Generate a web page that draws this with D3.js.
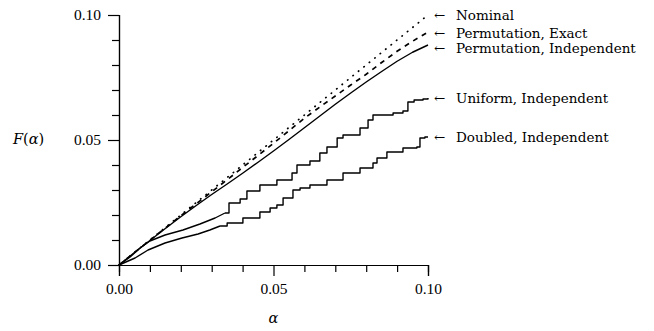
<!DOCTYPE html>
<html>
<head>
<meta charset="utf-8">
<script src="https://cdnjs.cloudflare.com/ajax/libs/d3/7.8.5/d3.min.js"></script>
<style>
  body { margin: 0; background: #fff; }
  svg { display: block; }
  text { font-family: "DejaVu Serif", serif; fill: #000; }
</style>
</head>
<body>
<svg id="chart" width="654" height="331"></svg>
<script>
// values
var seriesNames = ["Nominal", "Permutation, Exact", "Permutation, Independent", "Uniform, Independent", "Doubled, Independent"];

var nominalAlpha = [0, 0.10];
var nominalF = [0, 0.10];

var permAlpha = [0, 0.005, 0.01, 0.015, 0.02, 0.025, 0.03, 0.035, 0.04, 0.045, 0.05,
                 0.055, 0.06, 0.065, 0.07, 0.075, 0.08, 0.085, 0.09, 0.095, 0.10];
var permExactF = [0, 0.0050, 0.0099, 0.0148, 0.0197, 0.0245, 0.0293, 0.0341, 0.0390, 0.0438, 0.0487,
                  0.0537, 0.0587, 0.0632, 0.0676, 0.0720, 0.0763, 0.0810, 0.0855, 0.0895, 0.0932];
var permIndepF = [0, 0.0050, 0.0098, 0.0146, 0.0193, 0.0238, 0.0282, 0.0324, 0.0367, 0.0411, 0.0456,
                  0.0502, 0.0549, 0.0596, 0.0643, 0.0688, 0.0732, 0.0774, 0.0815, 0.0851, 0.0880];

var uniformAlpha = [0, 0.0036, 0.0068, 0.0100, 0.0149, 0.0207, 0.0262, 0.0311, 0.0343, 0.0356,
                    0.0392, 0.0414, 0.0456, 0.0511, 0.0560, 0.0576, 0.0618, 0.0650, 0.0673, 0.0706,
                    0.0725, 0.0780, 0.0806, 0.0822, 0.0887, 0.0919, 0.0935, 0.0955, 0.0984, 0.1000];
var uniformF = [0, 0.0032, 0.0068, 0.0096, 0.0120, 0.0140, 0.0164, 0.0188, 0.0208, 0.0248,
                0.0264, 0.0296, 0.0320, 0.0340, 0.0368, 0.0400, 0.0416, 0.0448, 0.0472, 0.0508,
                0.0520, 0.0548, 0.0580, 0.0600, 0.0608, 0.0616, 0.0652, 0.0660, 0.0664, 0.0668];

var doubledAlpha = [0, 0.0052, 0.0094, 0.0149, 0.0204, 0.0256, 0.0294, 0.0327, 0.0350, 0.0401,
                    0.0456, 0.0489, 0.0511, 0.0531, 0.0563, 0.0586, 0.0618, 0.0673, 0.0725, 0.0780,
                    0.0822, 0.0835, 0.0867, 0.0919, 0.0964, 0.0974, 0.0990, 0.1000];
var doubledF = [0, 0.0028, 0.0060, 0.0088, 0.0108, 0.0124, 0.0140, 0.0156, 0.0168, 0.0188,
                0.0212, 0.0228, 0.0240, 0.0268, 0.0300, 0.0308, 0.0320, 0.0340, 0.0368, 0.0388,
                0.0408, 0.0428, 0.0452, 0.0468, 0.0472, 0.0508, 0.0512, 0.0512];

var majorTicks = [0, 0.05, 0.10];
var minorTicks = [0.01, 0.02, 0.03, 0.04, 0.06, 0.07, 0.08, 0.09];

var svg = d3.select("#chart");

var x = d3.scaleLinear().domain([0, 0.10]).range([119, 428]);
var y = d3.scaleLinear().domain([0, 0.10]).range([265, 15]);

function pairs(a, f) {
    return a.map(function(d, i) { return [d, f[i]]; });
}

// stepped: the simulated curves climb in visible stairs past alpha ~ .034
var series = [
    { name: seriesNames[0], pts: pairs(nominalAlpha, nominalF), dash: "0.4,6.6", width: 1.7, cap: "round", nudge: 0, stepped: false },
    { name: seriesNames[1], pts: pairs(permAlpha, permExactF), dash: "5,5", width: 1.7, cap: "butt", nudge: 1, stepped: false },
    { name: seriesNames[2], pts: pairs(permAlpha, permIndepF), dash: null, width: 1.4, cap: "butt", nudge: 3, stepped: false },
    { name: seriesNames[3], pts: pairs(uniformAlpha, uniformF), dash: null, width: 1.4, cap: "butt", nudge: 0, stepped: true },
    { name: seriesNames[4], pts: pairs(doubledAlpha, doubledF), dash: null, width: 1.4, cap: "butt", nudge: 0, stepped: true }
];

// Y axis
svg.append("g")
    .attr("transform", "translate(" + x(0) + ",0)")
    .call(d3.axisLeft(y).tickValues(majorTicks).tickSize(11).tickPadding(7)
        .tickFormat(d3.format(".2f")));
svg.append("g")
    .attr("transform", "translate(" + x(0) + ",0)")
    .call(d3.axisLeft(y).tickValues(minorTicks).tickSize(7).tickFormat(""));

// X axis
svg.append("g")
    .attr("transform", "translate(0," + y(0) + ")")
    .call(d3.axisBottom(x).tickValues(majorTicks).tickSize(11).tickPadding(7)
        .tickFormat(d3.format(".2f")));
svg.append("g")
    .attr("transform", "translate(0," + y(0) + ")")
    .call(d3.axisBottom(x).tickValues(minorTicks).tickSize(7).tickFormat(""));

svg.selectAll(".domain").attr("stroke", "#000").attr("stroke-width", 1.2);
svg.selectAll(".tick line").attr("stroke", "#000").attr("stroke-width", 1.2);
svg.selectAll(".tick text")
    .style("font-family", "Liberation Serif")
    .style("font-size", "15.5px")
    .attr("fill", "#000");

// Axis labels
var yl = svg.append("text")
    .attr("x", 13)
    .attr("y", 144)
    .style("font-size", "14.5px");
yl.append("tspan").style("font-style", "italic").text("F");
yl.append("tspan").text("(");
yl.append("tspan").style("font-style", "italic").text("α");
yl.append("tspan").text(")");

svg.append("text")
    .attr("x", x(0.05))
    .attr("y", 323)
    .attr("text-anchor", "middle")
    .style("font-size", "14.5px")
    .style("font-style", "italic")
    .text("α");

// Lines
var line = d3.line()
    .x(function(d) { return x(d[0]); })
    .y(function(d) { return y(d[1]); });

function drawPath(pts, s, curve) {
    svg.append("path")
        .datum(pts)
        .attr("d", line.curve(curve))
        .attr("fill", "none")
        .attr("stroke", "#000")
        .attr("stroke-width", s.width)
        .attr("stroke-linecap", s.cap)
        .attr("stroke-linejoin", "round")
        .attr("stroke-dasharray", s.dash);
}

series.forEach(function(s) {
    if (s.stepped) {
        var head = s.pts.filter(function(d) { return d[0] <= 0.0345; });
        var tail = s.pts.filter(function(d) { return d[0] >= head[head.length - 1][0]; });
        drawPath(head, s, d3.curveLinear);
        drawPath(tail, s, d3.curveStepAfter);
    } else {
        drawPath(s.pts, s, d3.curveLinear);
    }
});

// Labels with arrows
series.forEach(function(s) {
    var last = s.pts[s.pts.length - 1];
    var ly = y(last[1]) + 5 + s.nudge;
    svg.append("text")
        .attr("x", 434)
        .attr("y", ly)
        .style("font-size", "13.5px")
        .text("←");
    svg.append("text")
        .attr("x", 456)
        .attr("y", ly)
        .style("font-size", "13.5px")
        .text(s.name);
});
</script>
</body>
</html>
